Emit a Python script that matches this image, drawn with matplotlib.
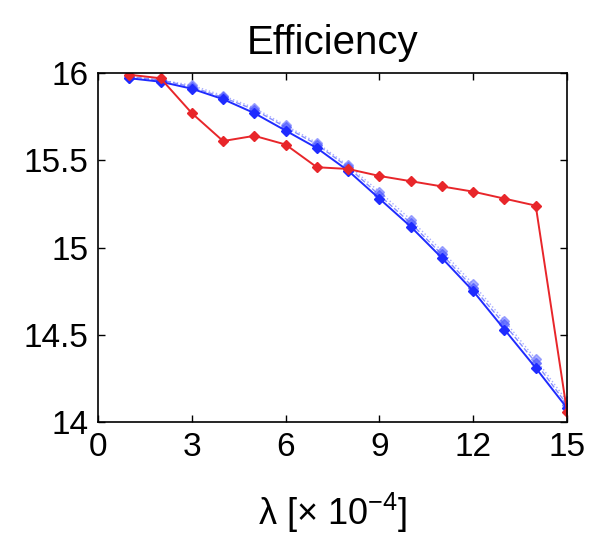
import numpy as np
import matplotlib
matplotlib.use("Agg")
import matplotlib.pyplot as plt

plt.rcParams["font.family"] = ["Liberation Sans", "DejaVu Sans"]
plt.rcParams["mathtext.fontset"] = "custom"
plt.rcParams["mathtext.rm"] = "Liberation Sans"
plt.rcParams["mathtext.it"] = "Liberation Sans"

lam = [1, 2, 3, 4, 5, 6, 7, 8, 9, 10, 11, 12, 13, 14, 15]

# red curve
eff_red = [15.99, 15.97, 15.77, 15.61, 15.64, 15.59, 15.46, 15.45,
           15.41, 15.38, 15.35, 15.32, 15.28, 15.24, 14.06]

# blue curves (solid, dashed, dotted) - nearly on top of each other
eff_blue_solid = [15.97, 15.95, 15.91, 15.85, 15.77, 15.67, 15.57, 15.44,
                  15.28, 15.12, 14.94, 14.75, 14.53, 14.31, 14.08]
eff_blue_dash = [15.98, 15.96, 15.92, 15.86, 15.79, 15.69, 15.59, 15.46,
                 15.30, 15.14, 14.96, 14.77, 14.56, 14.34, 14.10]
eff_blue_dot = [15.97, 15.96, 15.93, 15.87, 15.80, 15.70, 15.60, 15.47,
                15.32, 15.16, 14.98, 14.79, 14.58, 14.36, 14.12]

xticks = [0, 3, 6, 9, 12, 15]
yticks = [14, 14.5, 15, 15.5, 16]
ytick_labels = ["14", "14.5", "15", "15.5", "16"]

fig = plt.figure(figsize=(5.92, 5.36), dpi=100)
ax = fig.add_axes([98 / 592, 114 / 536, 469 / 592, 349 / 536])

blue = "#1f2bff"
red = "#e8262a"

ax.plot(lam, eff_blue_dot, color="#6f78ff", lw=1.0, ls=":", marker="D", ms=5, alpha=0.6)
ax.plot(lam, eff_blue_dash, color="#5560ff", lw=1.0, ls="--", marker="D", ms=5, alpha=0.7)
ax.plot(lam, eff_blue_solid, color=blue, lw=1.4, ls="-", marker="D", ms=5.5)
ax.plot(lam, eff_red, color=red, lw=1.4, ls="-", marker="D", ms=5.5)

ax.set_xlim(0, 15)
ax.set_ylim(14, 16)
ax.set_xticks(xticks)
ax.set_yticks(yticks)
ax.set_yticklabels(ytick_labels)
ax.tick_params(direction="in", top=True, right=True, labelsize=24, length=5,
               width=1.0, pad=7)
for sp in ax.spines.values():
    sp.set_linewidth(1.2)

ax.set_title("Efficiency", fontsize=29, pad=14)
ax.set_xlabel(r"λ [$\times$ 10$^{-4}$]", fontsize=26, labelpad=20)

fig.savefig("out.png", dpi=100)
